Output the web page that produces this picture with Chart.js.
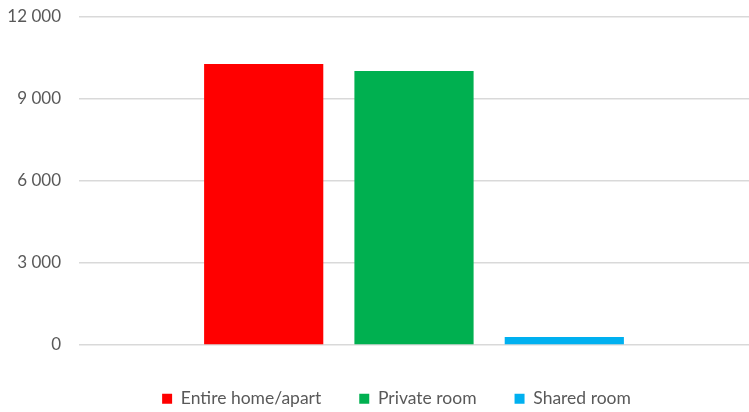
<!DOCTYPE html>
<html>
<head>
<meta charset="utf-8">
<script src="https://cdn.jsdelivr.net/npm/chart.js@4"></script>
<style>
  html, body { margin: 0; padding: 0; background: #fff; }
  #wrap { width: 749px; height: 412px; }
</style>
</head>
<body>
<div id="wrap"><canvas id="roomChart"></canvas></div>
<script>
// data
const categories = [''];
const seriesNames = ['Entire home/apart', 'Private room', 'Shared room'];
const seriesValues = [[10280], [10020], [290]];
const seriesColors = ['#FF0000', '#00B050', '#00B0F0'];
const yTicks = [0, 3000, 6000, 9000, 12000];

function fmt(v) {
  return String(v).replace(/\B(?=(\d{3})+(?!\d))/g, ' ');
}

// legend: fixed box height, and nudge it like the original (slightly right and down)
const legendFit = {
  id: 'legendFit',
  beforeInit(chart) {
    const fit = chart.legend.fit;
    chart.legend.fit = function () {
      fit.call(this);
      this.height = 67;
    };
  },
  afterLayout(chart) {
    const lg = chart.legend;
    lg.left += 22; lg.right += 22;
    lg.top += 7; lg.bottom += 7;
  }
};

document.addEventListener('DOMContentLoaded', function () {
  const ctx = document.getElementById('roomChart').getContext('2d');
  new Chart(ctx, {
    type: 'bar',
    data: {
      labels: categories,
      datasets: seriesNames.map((name, i) => ({
        label: name,
        data: seriesValues[i],
        backgroundColor: seriesColors[i],
        categoryPercentage: 0.673,
        barPercentage: 0.793
      }))
    },
    plugins: [legendFit],
    options: {
      responsive: true,
      maintainAspectRatio: false,
      animation: false,
      layout: { padding: 0 },
      plugins: {
        tooltip: { enabled: false },
        legend: {
          position: 'bottom',
          labels: {
            boxWidth: 10,
            boxHeight: 10,
            padding: 38,
            color: '#595959',
            font: { family: 'Lato', size: 17.5 }
          }
        }
      },
      scales: {
        x: {
          grid: { display: false },
          border: { display: false },
          ticks: { display: false },
          afterFit: axis => { axis.height = 0; }
        },
        y: {
          min: 0,
          max: 12000,
          afterBuildTicks: axis => { axis.ticks = yTicks.map(v => ({ value: v })); },
          afterFit: axis => {
            axis.width = 79;
            axis.paddingTop = 17;
            axis.paddingBottom = 0;
          },
          grid: { color: '#d9d9d9', lineWidth: 1.5, drawTicks: false },
          border: { display: false },
          ticks: {
            color: '#595959',
            padding: 18,
            font: { family: 'Lato', size: 17 },
            callback: v => fmt(v)
          }
        }
      }
    }
  });
});
</script>
</body>
</html>
